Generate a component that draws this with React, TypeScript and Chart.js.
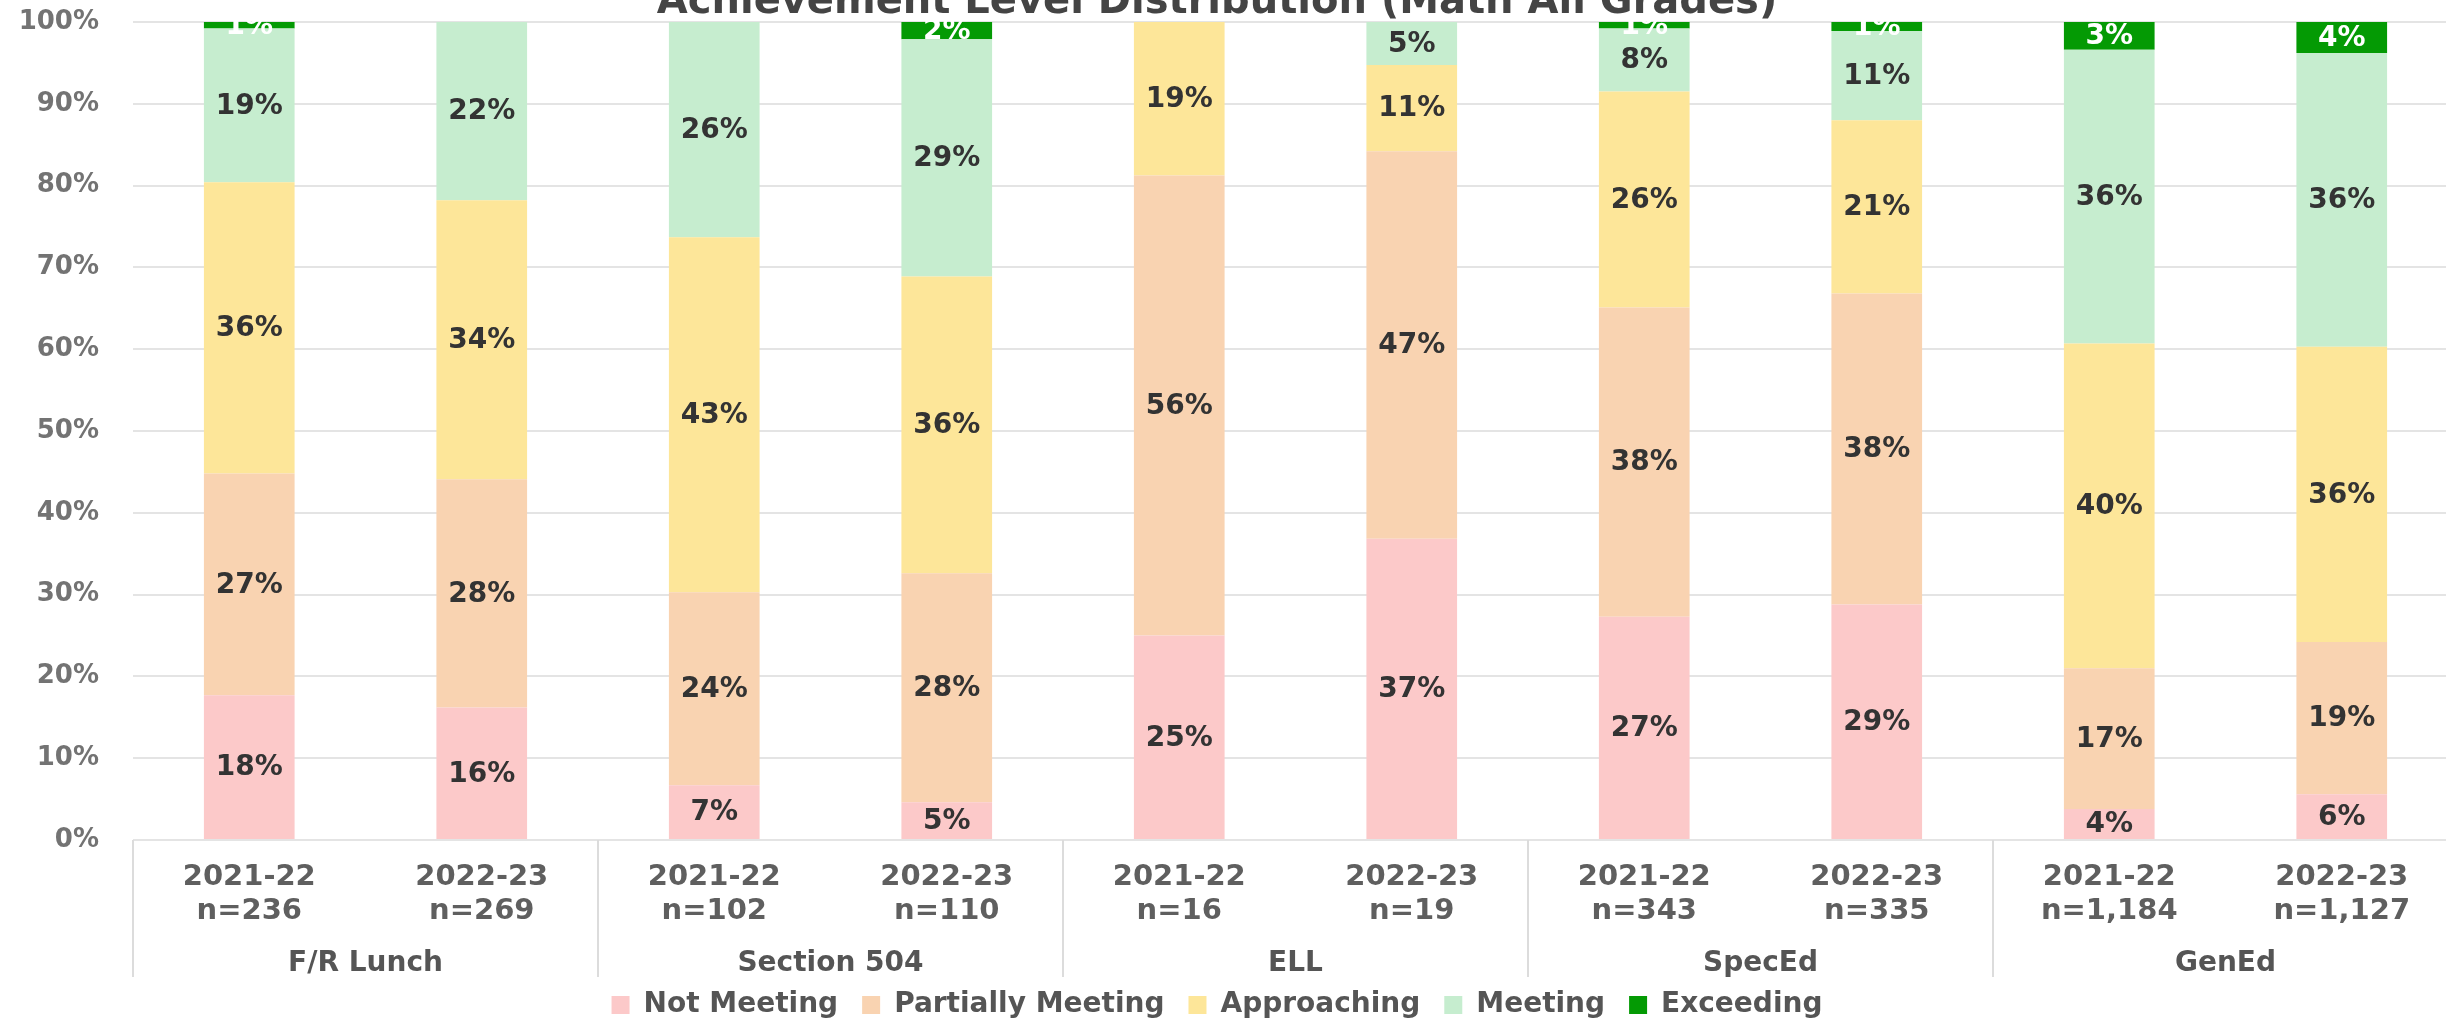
import React, { useEffect, useRef } from "react";
import { Chart, registerables } from "chart.js";

Chart.register(...registerables);

const TITLE = "Achievement Level Distribution (Math All Grades)";
const GROUPS = ["F/R Lunch", "Section 504", "ELL", "SpecEd", "GenEd"];
const YEARS = ["2021-22", "2022-23", "2021-22", "2022-23", "2021-22", "2022-23", "2021-22", "2022-23", "2021-22", "2022-23"];
const N_COUNTS = ["n=236", "n=269", "n=102", "n=110", "n=16", "n=19", "n=343", "n=335", "n=1,184", "n=1,127"];

const SERIES_NAMES = ["Not Meeting", "Partially Meeting", "Approaching", "Meeting", "Exceeding"];
const NOT_MEETING = [17.7, 16.2, 6.7, 4.6, 25.0, 36.84, 27.3, 28.8, 3.8, 5.6];
const PARTIALLY_MEETING = [27.1, 27.9, 23.6, 28.0, 56.25, 47.37, 37.8, 38.0, 17.2, 18.6];
const APPROACHING = [35.6, 34.1, 43.4, 36.3, 18.75, 10.53, 26.4, 21.2, 39.7, 36.1];
const MEETING = [18.8, 21.8, 26.3, 29.0, 0, 5.26, 7.7, 10.9, 35.9, 35.9];
const EXCEEDING = [0.8, 0, 0, 2.1, 0, 0, 0.8, 1.1, 3.4, 3.8];

const SERIES_COLORS = ["#FCC9C9", "#F9D3B1", "#FDE699", "#C6EDCF", "#049A04"];
const LABEL_COLORS = ["#333333", "#333333", "#333333", "#333333", "#FFFFFF"];

const FONT = "'DejaVu Sans', sans-serif";
const TITLE_CENTER_X = 1217;

const titlePlugin = {
  id: "cutTitle",
  afterDraw(chart: any) {
    const ctx = chart.ctx;
    ctx.save();
    ctx.font = `bold 40px ${FONT}`;
    ctx.fillStyle = "#444444";
    ctx.textAlign = "center";
    ctx.textBaseline = "alphabetic";
    ctx.fillText(TITLE, TITLE_CENTER_X, 13);
    ctx.restore();
  },
};

const dataLabelPlugin = {
  id: "segLabels",
  afterDatasetsDraw(chart: any) {
    const ctx = chart.ctx;
    ctx.save();
    ctx.font = `bold 28px ${FONT}`;
    ctx.textAlign = "center";
    ctx.textBaseline = "middle";
    chart.data.datasets.forEach((ds: any, i: number) => {
      const meta = chart.getDatasetMeta(i);
      meta.data.forEach((bar: any, j: number) => {
        const v = ds.data[j];
        if (!v || Math.round(v) < 1) return;
        ctx.fillStyle = LABEL_COLORS[i];
        ctx.fillText(Math.round(v) + "%", bar.x, (bar.y + bar.base) / 2 + 1);
      });
    });
    ctx.restore();
  },
};

const groupAxisPlugin = {
  id: "groupAxis",
  afterDraw(chart: any) {
    const ctx = chart.ctx;
    const x = chart.scales.x;
    const area = chart.chartArea;
    const step = x.getPixelForValue(1) - x.getPixelForValue(0);
    ctx.save();
    ctx.strokeStyle = "#dcdcdc";
    ctx.lineWidth = 2;
    for (let g = 0; g <= GROUPS.length; g++) {
      const px = Math.round(x.getPixelForValue(g * 2) - step / 2);
      ctx.beginPath();
      ctx.moveTo(px, area.bottom);
      ctx.lineTo(px, area.bottom + 137);
      ctx.stroke();
    }
    ctx.font = `bold 28px ${FONT}`;
    ctx.fillStyle = "#555555";
    ctx.textAlign = "center";
    ctx.textBaseline = "middle";
    GROUPS.forEach((name, g) => {
      const cx = (x.getPixelForValue(g * 2) + x.getPixelForValue(g * 2 + 1)) / 2;
      ctx.fillText(name, cx, area.bottom + 124);
    });
    ctx.restore();
  },
};

const legendShiftPlugin = {
  id: "legendShift",
  afterLayout(chart: any) {
    const lg = chart.legend;
    if (lg) {
      const d = TITLE_CENTER_X - chart.width / 2;
      lg.left += d;
      lg.right += d;
      lg.top += 8;
      lg.bottom += 8;
    }
  },
};

export default function App() {
  const ref = useRef<HTMLCanvasElement | null>(null);

  useEffect(() => {
    if (!ref.current) return;
    const series = [NOT_MEETING, PARTIALLY_MEETING, APPROACHING, MEETING, EXCEEDING];
    const chart = new Chart(ref.current, {
      type: "bar",
      data: {
        labels: YEARS.map((y, i) => [y, N_COUNTS[i]]),
        datasets: series.map((d, i) => ({
          label: SERIES_NAMES[i],
          data: d,
          backgroundColor: SERIES_COLORS[i],
          borderWidth: 0,
          barPercentage: 0.39,
          categoryPercentage: 1,
        })),
      },
      options: {
        animation: false,
        responsive: true,
        maintainAspectRatio: false,
        layout: { padding: { top: 22, left: 0, right: 0, bottom: 0 } },
        plugins: {
          title: { display: false },
          tooltip: { enabled: false },
          legend: {
            display: true,
            position: "bottom",
            labels: {
              boxWidth: 18,
              boxHeight: 18,
              padding: 24,
              color: "#555555",
              font: { family: FONT, size: 28, weight: "bold" },
            },
          },
        },
        scales: {
          x: {
            stacked: true,
            grid: { display: false, drawTicks: false },
            border: { display: false },
            ticks: {
              color: "#5f5f5f",
              padding: 21,
              maxRotation: 0,
              autoSkip: false,
              font: { family: FONT, size: 29, weight: "bold", lineHeight: 1.17 },
            },
            afterFit: (scale: any) => {
              scale.height = 119;
            },
          },
          y: {
            stacked: true,
            min: 0,
            max: 100,
            grid: { color: "#e4e4e4", lineWidth: 2, drawTicks: false },
            border: { display: false },
            ticks: {
              stepSize: 10,
              padding: 34,
              color: "#737373",
              font: { family: FONT, size: 26, weight: "bold" },
              callback: (v: any) => v + "%",
            },
            afterFit: (scale: any) => {
              scale.width = 133;
              scale.paddingTop = 0;
              scale.paddingBottom = 0;
            },
          },
        },
      },
      plugins: [dataLabelPlugin, groupAxisPlugin, titlePlugin, legendShiftPlugin],
    });
    return () => chart.destroy();
  }, []);

  return (
    <div style={{ position: "fixed", left: 0, top: 0, width: 2446, height: 1021, overflow: "hidden", background: "#ffffff" }}>
      <div style={{ position: "absolute", left: 0, top: 0, width: 2458, height: 1021 }}>
        <canvas ref={ref} />
      </div>
    </div>
  );
}
